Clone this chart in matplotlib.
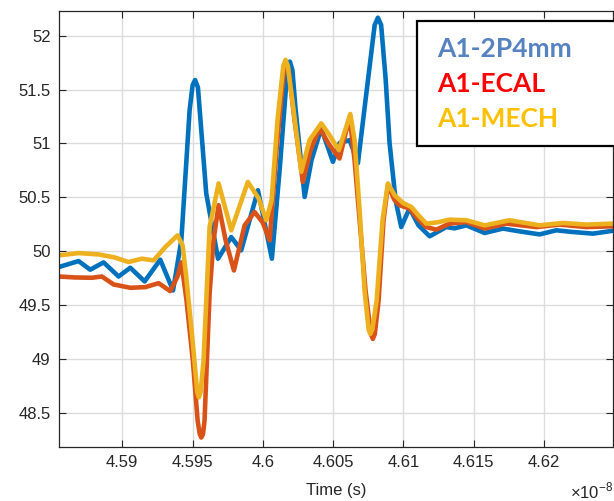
import matplotlib
matplotlib.use("Agg")
import matplotlib.pyplot as plt
from matplotlib.patches import Rectangle
from matplotlib.ticker import FormatStrFormatter

plt.rcParams["font.family"] = ["Liberation Sans", "DejaVu Sans"]
plt.rcParams["mathtext.fontset"] = "custom"
plt.rcParams["mathtext.rm"] = "Liberation Sans"

# time in units of 1e-8 s
t_2p4 = [4.58547, 4.58689, 4.58772, 4.58867, 4.58974, 4.59057, 4.59159, 4.59270,
         4.59361, 4.59420, 4.59479, 4.59500, 4.59518, 4.59538, 4.59597, 4.59681,
         4.59775, 4.59846, 4.59965, 4.60064, 4.60119, 4.60175, 4.60192, 4.60210,
         4.60233, 4.60297, 4.60346, 4.60415, 4.60498, 4.60545, 4.60617, 4.60676,
         4.60730, 4.60795, 4.60818, 4.60841, 4.60873, 4.60901, 4.60944, 4.60984,
         4.61043, 4.61107, 4.61186, 4.61304, 4.61363, 4.61447, 4.61577, 4.61707,
         4.61826, 4.61968, 4.62087, 4.62205, 4.62347, 4.62487]
v_2p4 = [49.851, 49.907, 49.827, 49.895, 49.764, 49.845, 49.718, 49.920,
         49.634, 50.100, 51.310, 51.540, 51.589, 51.520, 50.537, 49.929,
         50.130, 50.007, 50.565, 49.929, 50.751, 51.700, 51.760, 51.680,
         51.310, 50.503, 50.845, 51.140, 50.829, 51.003, 51.031, 50.817,
         51.403, 52.100, 52.168, 52.100, 51.600, 51.003, 50.472, 50.223,
         50.398, 50.239, 50.137, 50.223, 50.211, 50.239, 50.168, 50.209,
         50.183, 50.155, 50.193, 50.177, 50.162, 50.188]

t_ecal = [4.58547, 4.58661, 4.58784, 4.58855, 4.58938, 4.59057, 4.59164, 4.59258,
          4.59341, 4.59393, 4.59420, 4.59457, 4.59502, 4.59536, 4.59551, 4.59562,
          4.59574, 4.59585, 4.59621, 4.59649, 4.59685, 4.59735, 4.59794, 4.59870,
          4.59941, 4.59998, 4.60048, 4.60097, 4.60150, 4.60166, 4.60182, 4.60225,
          4.60284, 4.60339, 4.60403, 4.60474, 4.60545, 4.60617, 4.60652, 4.60688,
          4.60730, 4.60768, 4.60782, 4.60796, 4.60823, 4.60858, 4.60889, 4.60937,
          4.60972, 4.61043, 4.61100, 4.61162, 4.61233, 4.61328, 4.61447, 4.61577,
          4.61731, 4.61944, 4.62110, 4.62300, 4.62487]
v_ecal = [49.764, 49.755, 49.752, 49.764, 49.690, 49.659, 49.665, 49.702,
          49.628, 49.764, 49.895, 49.541, 48.982, 48.424, 48.300, 48.268,
          48.300, 48.424, 49.606, 50.100, 50.426, 50.100, 49.820, 50.239,
          50.363, 50.267, 50.100, 50.938, 51.690, 51.745, 51.690, 51.217,
          50.642, 50.938, 51.140, 50.984, 50.860, 51.248, 50.845, 50.286,
          49.634, 49.230, 49.184, 49.230, 49.541, 50.286, 50.612, 50.472,
          50.426, 50.395, 50.304, 50.223, 50.199, 50.255, 50.270, 50.209,
          50.255, 50.223, 50.246, 50.223, 50.230]

t_mech = [4.58547, 4.58689, 4.58831, 4.58945, 4.59045, 4.59139, 4.59223, 4.59306,
          4.59393, 4.59429, 4.59455, 4.59500, 4.59533, 4.59545, 4.59557, 4.59578,
          4.59621, 4.59685, 4.59775, 4.59893, 4.59969, 4.60024, 4.60062, 4.60104,
          4.60145, 4.60161, 4.60177, 4.60218, 4.60273, 4.60332, 4.60415, 4.60474,
          4.60540, 4.60622, 4.60652, 4.60688, 4.60723, 4.60752, 4.60764, 4.60778,
          4.60809, 4.60851, 4.60889, 4.60937, 4.60996, 4.61055, 4.61107, 4.61162,
          4.61242, 4.61328, 4.61447, 4.61577, 4.61754, 4.61968, 4.62134, 4.62300,
          4.62487]
v_mech = [49.960, 49.981, 49.969, 49.941, 49.898, 49.929, 49.913, 50.037,
          50.146, 50.053, 49.758, 49.169, 48.690, 48.641, 48.690, 48.982,
          50.223, 50.628, 50.193, 50.642, 50.491, 50.286, 50.472, 51.217,
          51.720, 51.776, 51.720, 51.310, 50.736, 51.031, 51.186, 51.077,
          50.938, 51.273, 51.031, 50.379, 49.634, 49.270, 49.231, 49.270,
          49.541, 50.286, 50.628, 50.519, 50.447, 50.410, 50.332, 50.255,
          50.267, 50.292, 50.286, 50.239, 50.286, 50.239, 50.261, 50.246,
          50.255]

x_ticks = [4.59, 4.595, 4.6, 4.605, 4.61, 4.615, 4.62]
y_ticks = [48.5, 49, 49.5, 50, 50.5, 51, 51.5, 52]
labels = ["A1-2P4mm", "A1-ECAL", "A1-MECH"]

fig = plt.figure(figsize=(6.14, 5.01), dpi=100)
ax = fig.add_axes([59 / 614, 54 / 501, 554 / 614, 436 / 501])

ax.plot(t_2p4, v_2p4, color="#0072BD", lw=3.3, solid_joinstyle="round")
ax.plot(t_ecal, v_ecal, color="#D95319", lw=3.3, solid_joinstyle="round")
ax.plot(t_mech, v_mech, color="#EDB120", lw=3.3, solid_joinstyle="round")

ax.set_xlim(4.5855, 4.6249)
ax.set_ylim(48.18, 52.23)
ax.set_xticks(x_ticks)
ax.set_yticks(y_ticks)
ax.xaxis.set_major_formatter(FormatStrFormatter("%g"))
ax.yaxis.set_major_formatter(FormatStrFormatter("%g"))
ax.grid(True, color="#dcdcdc", lw=1)
ax.set_axisbelow(True)
ax.tick_params(direction="in", top=True, right=True, length=5, width=0.8,
               colors="#262626", labelsize=12, pad=6)
for s in ax.spines.values():
    s.set_color("#262626")
    s.set_linewidth(0.9)

fig.text(336 / 614, 1 - 490 / 501, "Time (s)", ha="center", va="center",
         fontsize=12, color="#262626")
fig.text(570 / 614, 1 - 491 / 501, r"$\times10^{-8}$", ha="left", va="center",
         fontsize=12, color="#262626")

# legend box
fig.patches.append(Rectangle((417 / 614, 1 - 146 / 501), 0.4, 125 / 501,
                             transform=fig.transFigure, facecolor="white",
                             edgecolor="black", lw=1.6, zorder=5))
label_colors = ["#5682C2", "#FF0000", "#FFC000"]
label_y = [49, 84, 119]
for lab, c, yy in zip(labels, label_colors, label_y):
    fig.text(437 / 614, 1 - yy / 501, lab, ha="left", va="center", fontsize=19,
             fontweight="bold", family="Lato", color=c, zorder=6)

fig.savefig("out.png", dpi=100)
